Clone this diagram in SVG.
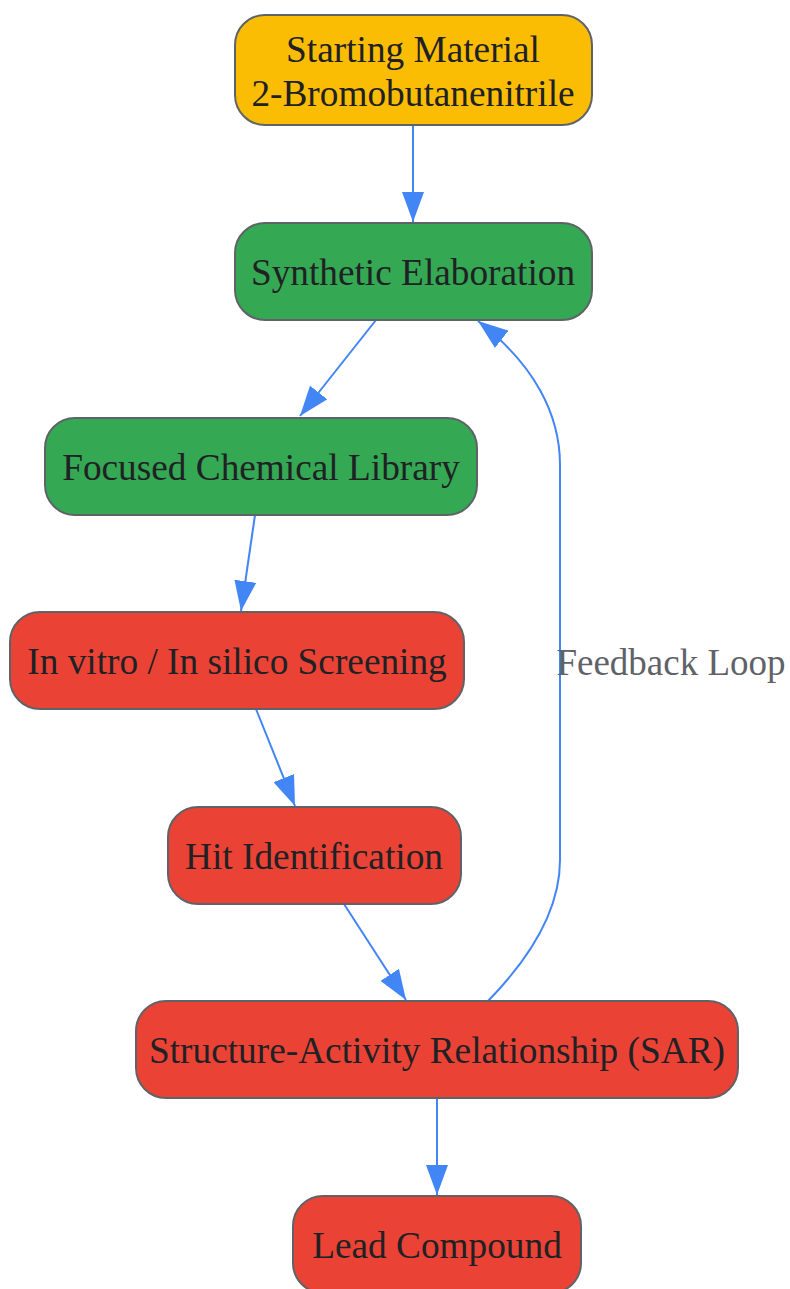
<svg xmlns="http://www.w3.org/2000/svg" width="790" height="1289" viewBox="0 0 790 1289">
<defs>
<style>
.n{stroke:#5f6368;stroke-width:2}
.y{fill:#fbbc04}.g{fill:#34a853}.r{fill:#ea4335}
.t{font-family:"Liberation Serif",serif;font-size:37.3px;fill:#202124;text-anchor:middle}
.e{fill:none;stroke:#4285f4;stroke-width:2}
.lb{font-family:"Liberation Serif",serif;font-size:37px;fill:#5f6368;text-anchor:middle}
</style>
<marker id="a" viewBox="0 0 30 22" refX="30" refY="11" markerWidth="30" markerHeight="22" markerUnits="userSpaceOnUse" orient="auto">
<path d="M0,0 L30,11 L0,22 Z" fill="#4285f4"/>
</marker>
</defs>
<rect width="790" height="1289" fill="#fff"/>
<g id="edges">
<path class="e" d="M413,125 L413,222" marker-end="url(#a)"/>
<path class="e" d="M376,320 L300,416" marker-end="url(#a)"/>
<path class="e" d="M255,515 L241,611" marker-end="url(#a)"/>
<path class="e" d="M256,709 L295,806" marker-end="url(#a)"/>
<path class="e" d="M344,904 L406,1000" marker-end="url(#a)"/>
<path class="e" d="M437,1098 L437,1195" marker-end="url(#a)"/>
<path class="e" d="M488,1001 C530,958 560,910 560,860 L560,465 C560,415 535,365 478,321" marker-end="url(#a)"/>
<text class="lb" x="671" y="675">Feedback Loop</text>
</g>
<g id="start"><rect class="n y" x="235" y="15" width="357" height="110" rx="30"/><text class="t" x="413" y="62">Starting Material</text><text class="t" x="413" y="106">2-Bromobutanenitrile</text></g>
<g id="synth"><rect class="n g" x="235" y="223" width="357" height="97" rx="30"/><text class="t" x="413" y="285">Synthetic Elaboration</text></g>
<g id="lib"><rect class="n g" x="45" y="418" width="432" height="97" rx="30"/><text class="t" x="261" y="480">Focused Chemical Library</text></g>
<g id="screen"><rect class="n r" x="10" y="612" width="454" height="97" rx="30"/><text class="t" x="237" y="674">In vitro / In silico Screening</text></g>
<g id="hit"><rect class="n r" x="168" y="807" width="293" height="97" rx="30"/><text class="t" x="314" y="869">Hit Identification</text></g>
<g id="sar"><rect class="n r" x="136" y="1001" width="602" height="97" rx="30"/><text class="t" x="437" y="1063">Structure-Activity Relationship (SAR)</text></g>
<g id="lead"><rect class="n r" x="293" y="1196" width="288" height="97" rx="30"/><text class="t" x="437" y="1258">Lead Compound</text></g>
</svg>
